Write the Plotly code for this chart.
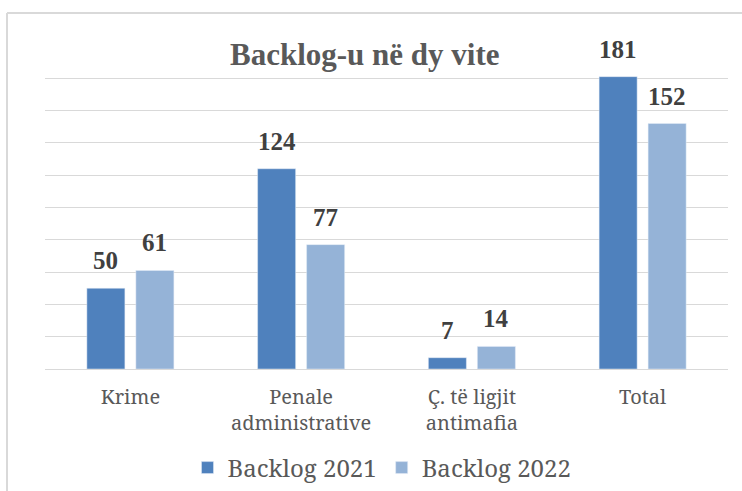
import plotly.graph_objects as go

categories = ["Krime", "Penale<br>administrative", "Ç. të ligjit<br>antimafia", "Total"]
backlog_2021 = [50, 124, 7, 181]
backlog_2022 = [61, 77, 14, 152]
series_names = ["Backlog 2021", "Backlog 2022"]
title_text = "Backlog-u në dy vite"

c1 = "#4F81BD"
c2 = "#95B3D7"
serif_b = "Liberation Serif"
serif_r = "Noto Serif"

fig = go.Figure()
fig.add_trace(go.Bar(name=series_names[0], x=categories, y=backlog_2021, marker_color=c1))
fig.add_trace(go.Bar(name=series_names[1], x=categories, y=backlog_2022, marker_color=c2))

annotations = []
for vals, shift in [(backlog_2021, -24.5), (backlog_2022, 24.5)]:
    for cat, v in zip(categories, vals):
        annotations.append(dict(x=cat, y=v, xref="x", yref="y", text=str(v),
                                showarrow=False, xshift=shift, yanchor="bottom", yshift=12,
                                font=dict(family=serif_b, size=25, color="#404040", weight="bold")))
annotations.append(dict(x=(365-45)/683, y=1-(54-45)/324, xref="paper", yref="paper", text=title_text,
                        showarrow=False, xanchor="center", yanchor="middle",
                        font=dict(family=serif_b, size=31, color="#595959", weight="bold")))

fig.update_layout(
    width=742, height=491,
    font=dict(family=serif_r, color="#595959"),
    margin=dict(l=45, r=14, t=45, b=122, autoexpand=False),
    paper_bgcolor="white", plot_bgcolor="white",
    barmode="group", bargap=0.426, bargroupgap=0.224,
    showlegend=True,
    legend=dict(orientation="h", x=(382-45)/683, xanchor="center", y=(369-468)/324, yanchor="middle",
                font=dict(family=serif_r, size=24, color="#595959"), itemwidth=30),
    annotations=annotations,
    xaxis=dict(tickfont=dict(family=serif_r, size=20, color="#595959"), showline=False,
               ticks="outside", ticklen=10, tickcolor="rgba(0,0,0,0)", showgrid=False),
    yaxis=dict(range=[0, 200.6], dtick=20, showticklabels=False, showgrid=True,
               gridcolor="#D9D9D9", gridwidth=1, zeroline=True, zerolinecolor="#D9D9D9",
               zerolinewidth=1),
    shapes=[
        dict(type="line", xref="paper", yref="paper", x0=(7-45)/683, x1=(7-45)/683,
             y0=1+(45-13)/324, y1=-0.5, line=dict(color="#D9D9D9", width=2)),
        dict(type="line", xref="paper", yref="paper", x0=(7-45)/683, x1=1.1,
             y0=1+(45-13)/324, y1=1+(45-13)/324, line=dict(color="#D9D9D9", width=2)),
    ],
)

fig.write_html("out.html", post_script="document.body.style.margin='0';",
               config={"displayModeBar": False})
